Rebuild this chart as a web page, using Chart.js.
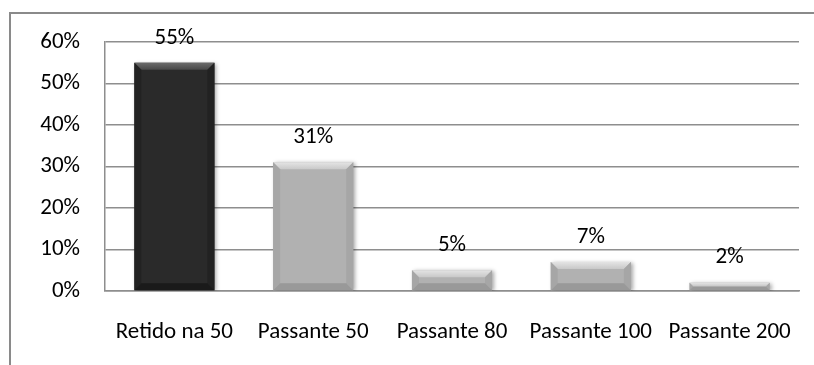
<!DOCTYPE html>
<html>
<head>
<meta charset="utf-8">
<script src="https://cdn.jsdelivr.net/npm/chart.js@4"></script>
<style>
  html, body { margin: 0; padding: 0; background: #fff; overflow: hidden; }
  #wrap { position: relative; width: 814px; height: 365px; }
  #frame { position: absolute; left: 9px; top: 12px; width: 900px; height: 400px; border: 2px solid #8a8a8a; }
  canvas { position: absolute; left: 0; top: 0; }
</style>
</head>
<body>
<div id="wrap">
  <div id="frame"></div>
  <canvas id="granChart" width="814" height="365"></canvas>
</div>
<script>
// granulometria - percentuais por peneira
const categorias = ['Retido na 50', 'Passante 50', 'Passante 80', 'Passante 100', 'Passante 200'];
const percentuais = [55, 31, 5, 7, 2];
const yTicks = [0, 10, 20, 30, 40, 50, 60];

const corBarra = ['#2a2a2a', '#b1b1b1', '#b1b1b1', '#b1b1b1', '#b1b1b1'];
const fonte = "Carlito, Lato, 'Liberation Sans', sans-serif";
const tamFonte = 23;

// sombra leve atrás das barras
const sombraPlugin = {
    id: 'sombra',
    beforeDatasetsDraw(chart) {
        const c = chart.ctx;
        c.save();
        c.shadowColor = 'rgba(0,0,0,0.35)';
        c.shadowBlur = 4;
        c.shadowOffsetX = 2;
        c.shadowOffsetY = 1;
    },
    afterDatasetsDraw(chart) {
        chart.ctx.restore();
    }
};

// chanfro nas bordas + rótulos de valor
const chanfroPlugin = {
    id: 'chanfro',
    afterDatasetsDraw(chart) {
        const c = chart.ctx;
        const meta = chart.getDatasetMeta(0);
        meta.data.forEach((bar, i) => {
            const x0 = bar.x - bar.width / 2, x1 = bar.x + bar.width / 2;
            const y0 = bar.y, y1 = bar.base;
            const b = Math.min(7, (y1 - y0) / 2.2);
            const escuro = i === 0;
            c.save();
            // topo
            const g = c.createLinearGradient(0, y0, 0, y0 + b);
            g.addColorStop(0, escuro ? '#6a6a6a' : '#e4e4e4');
            g.addColorStop(1, escuro ? '#474747' : '#c8c8c8');
            c.fillStyle = g;
            c.beginPath();
            c.moveTo(x0, y0); c.lineTo(x1, y0); c.lineTo(x1 - b, y0 + b); c.lineTo(x0 + b, y0 + b);
            c.closePath(); c.fill();
            // lados
            c.fillStyle = escuro ? '#222' : '#a6a6a6';
            c.beginPath();
            c.moveTo(x0, y0); c.lineTo(x0 + b, y0 + b); c.lineTo(x0 + b, y1 - b); c.lineTo(x0, y1);
            c.closePath(); c.fill();
            c.beginPath();
            c.moveTo(x1, y0); c.lineTo(x1 - b, y0 + b); c.lineTo(x1 - b, y1 - b); c.lineTo(x1, y1);
            c.closePath(); c.fill();
            // base
            c.fillStyle = escuro ? '#1a1a1a' : '#999';
            c.beginPath();
            c.moveTo(x0, y1); c.lineTo(x1, y1); c.lineTo(x1 - b, y1 - b); c.lineTo(x0 + b, y1 - b);
            c.closePath(); c.fill();
            // rótulo
            c.fillStyle = '#000';
            c.font = tamFonte + 'px ' + fonte;
            c.textAlign = 'center';
            c.textBaseline = 'middle';
            c.fillText(percentuais[i] + '%', bar.x, y0 - 25);
            c.restore();
        });
    }
};

new Chart(document.getElementById('granChart').getContext('2d'), {
    type: 'bar',
    data: {
        labels: categorias,
        datasets: [{
            data: percentuais,
            backgroundColor: corBarra,
            borderWidth: 0,
            barPercentage: 0.577,
            categoryPercentage: 1
        }]
    },
    options: {
        responsive: false,
        animation: false,
        layout: {
            padding: { top: 42, right: 15, left: 0, bottom: 0 }
        },
        plugins: {
            legend: { display: false },
            tooltip: { enabled: false }
        },
        scales: {
            x: {
                grid: { display: false, drawTicks: false },
                border: { color: '#8e8e8e', width: 1.5 },
                ticks: { color: '#000', padding: 27, font: { family: fonte, size: tamFonte } },
                afterFit: (s) => { s.height = 74; s.paddingLeft = 0; s.paddingRight = 0; }
            },
            y: {
                min: yTicks[0],
                max: yTicks[yTicks.length - 1],
                afterBuildTicks: (s) => { s.ticks = yTicks.map(v => ({ value: v })); },
                grid: { color: '#8e8e8e', lineWidth: 1.5, drawTicks: false },
                border: { color: '#8e8e8e', width: 1.5 },
                ticks: {
                    color: '#000',
                    padding: 25,
                    font: { family: fonte, size: tamFonte },
                    callback: (v) => v + '%'
                },
                afterFit: (s) => { s.width = 105; s.paddingTop = 0; s.paddingBottom = 0; }
            }
        }
    },
    plugins: [sombraPlugin, chanfroPlugin]
});
</script>
</body>
</html>
